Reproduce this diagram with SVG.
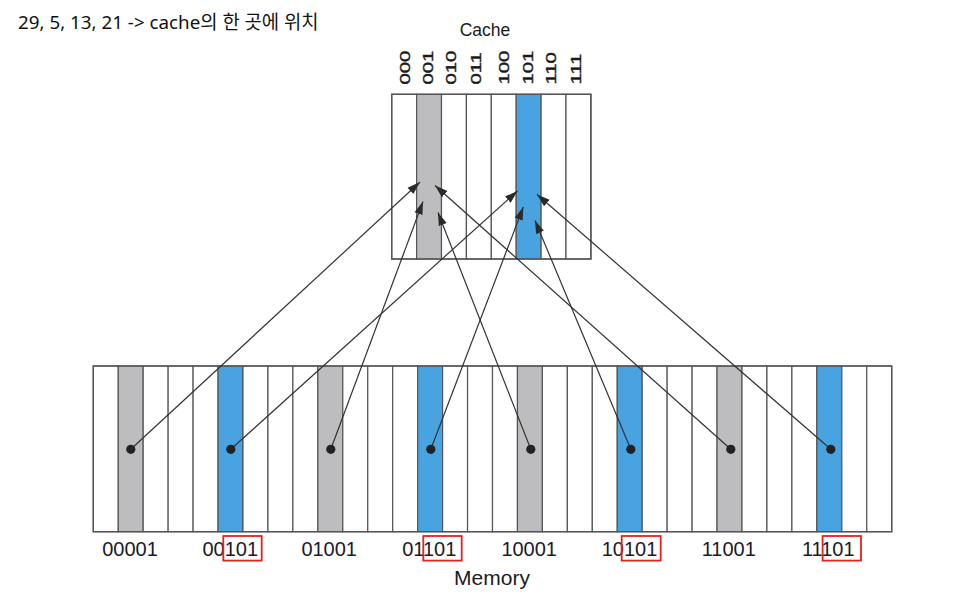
<svg xmlns="http://www.w3.org/2000/svg" width="972" height="594" viewBox="0 0 972 594">
<defs>
<style>
.cell{fill:#ffffff;stroke:#555555;stroke-width:1.2}
.gray{fill:#bdbdbf;stroke:#555555;stroke-width:1.2}
.blue{fill:#48a3e0;stroke:#555555;stroke-width:1.2}
.outer{fill:none;stroke:#555555;stroke-width:1.4}
.lbl{font-family:"Liberation Sans",Arial,sans-serif;font-size:20px;fill:#1a1a2a;text-anchor:middle}
.clbl{font-family:"Liberation Sans",Arial,sans-serif;font-size:14px;fill:#1a1a1a;stroke:#1a1a1a;stroke-width:0.35}
.red{fill:none;stroke:#e8201c;stroke-width:1.8}
.conn{stroke:#333333;stroke-width:1.2;fill:none}
.dot{fill:#222222}
</style>
<marker id="ah" markerUnits="userSpaceOnUse" markerWidth="14" markerHeight="10" viewBox="0 0 14 10" refX="13" refY="5" orient="auto">
<path d="M0,0.8 L13,5 L0,9.2 Z" fill="#2a2a2a"/>
</marker>
</defs>
<rect width="972" height="594" fill="#ffffff"/>

<text x="18" y="28.5" font-family="'Noto Sans','Noto Sans CJK KR',sans-serif" font-size="18.8" fill="#111111">29, 5, 13, 21 -&gt; cache의 한 곳에 위치</text>

<g id="cache">
<text x="485" y="35.5" font-family="'Liberation Sans',Arial,sans-serif" font-size="17.5" fill="#1a1a1a" text-anchor="middle">Cache</text>
<rect class="cell" x="391.7" y="94.3" width="24.9" height="164.7"/>
<rect class="gray" x="416.6" y="94.3" width="24.9" height="164.7"/>
<rect class="cell" x="441.5" y="94.3" width="24.9" height="164.7"/>
<rect class="cell" x="466.4" y="94.3" width="24.9" height="164.7"/>
<rect class="cell" x="491.3" y="94.3" width="24.9" height="164.7"/>
<rect class="blue" x="516.2" y="94.3" width="24.9" height="164.7"/>
<rect class="cell" x="541.1" y="94.3" width="24.9" height="164.7"/>
<rect class="cell" x="566.0" y="94.3" width="24.9" height="164.7"/>
<rect class="outer" x="391.7" y="94.3" width="199.2" height="164.7"/>
<text class="clbl" transform="translate(409.8,84.5) rotate(-90) scale(1.45,1)">000</text>
<text class="clbl" transform="translate(432.8,84.5) rotate(-90) scale(1.45,1)">001</text>
<text class="clbl" transform="translate(456.3,84.5) rotate(-90) scale(1.45,1)">010</text>
<text class="clbl" transform="translate(481.3,84.5) rotate(-90) scale(1.45,1)">011</text>
<text class="clbl" transform="translate(508.8,84.5) rotate(-90) scale(1.45,1)">100</text>
<text class="clbl" transform="translate(532.8,84.5) rotate(-90) scale(1.45,1)">101</text>
<text class="clbl" transform="translate(556.3,84.5) rotate(-90) scale(1.45,1)">110</text>
<text class="clbl" transform="translate(581.3,84.5) rotate(-90) scale(1.45,1)">111</text>
</g>

<g id="memory">
<rect class="cell" x="93.3" y="366" width="24.95" height="165.7"/>
<rect class="gray" x="118.25" y="366" width="24.95" height="165.7"/>
<rect class="cell" x="143.2" y="366" width="24.95" height="165.7"/>
<rect class="cell" x="168.15" y="366" width="24.95" height="165.7"/>
<rect class="cell" x="193.1" y="366" width="24.95" height="165.7"/>
<rect class="blue" x="218.05" y="366" width="24.95" height="165.7"/>
<rect class="cell" x="243.0" y="366" width="24.95" height="165.7"/>
<rect class="cell" x="267.95" y="366" width="24.95" height="165.7"/>
<rect class="cell" x="292.9" y="366" width="24.95" height="165.7"/>
<rect class="gray" x="317.85" y="366" width="24.95" height="165.7"/>
<rect class="cell" x="342.8" y="366" width="24.95" height="165.7"/>
<rect class="cell" x="367.75" y="366" width="24.95" height="165.7"/>
<rect class="cell" x="392.7" y="366" width="24.95" height="165.7"/>
<rect class="blue" x="417.65" y="366" width="24.95" height="165.7"/>
<rect class="cell" x="442.6" y="366" width="24.95" height="165.7"/>
<rect class="cell" x="467.55" y="366" width="24.95" height="165.7"/>
<rect class="cell" x="492.5" y="366" width="24.95" height="165.7"/>
<rect class="gray" x="517.45" y="366" width="24.95" height="165.7"/>
<rect class="cell" x="542.4" y="366" width="24.95" height="165.7"/>
<rect class="cell" x="567.35" y="366" width="24.95" height="165.7"/>
<rect class="cell" x="592.3" y="366" width="24.95" height="165.7"/>
<rect class="blue" x="617.25" y="366" width="24.95" height="165.7"/>
<rect class="cell" x="642.2" y="366" width="24.95" height="165.7"/>
<rect class="cell" x="667.15" y="366" width="24.95" height="165.7"/>
<rect class="cell" x="692.1" y="366" width="24.95" height="165.7"/>
<rect class="gray" x="717.05" y="366" width="24.95" height="165.7"/>
<rect class="cell" x="742.0" y="366" width="24.95" height="165.7"/>
<rect class="cell" x="766.95" y="366" width="24.95" height="165.7"/>
<rect class="cell" x="791.9" y="366" width="24.95" height="165.7"/>
<rect class="blue" x="816.85" y="366" width="24.95" height="165.7"/>
<rect class="cell" x="841.8" y="366" width="24.95" height="165.7"/>
<rect class="cell" x="866.75" y="366" width="24.95" height="165.7"/>
<rect class="outer" x="93.3" y="366" width="798.4" height="165.7"/>
<text x="492" y="585" font-family="'Liberation Sans',Arial,sans-serif" font-size="21" fill="#1a1a2a" text-anchor="middle">Memory</text>
</g>

<g id="addresses">
<text class="lbl" x="130" y="556">00001</text>
<text class="lbl" x="230.3" y="556">00101</text>
<text class="lbl" x="329.2" y="556">01001</text>
<text class="lbl" x="429.3" y="556">01101</text>
<text class="lbl" x="529.2" y="556">10001</text>
<text class="lbl" x="629.5" y="556">10101</text>
<text class="lbl" x="728.8" y="556">11001</text>
<text class="lbl" x="828.3" y="556">11101</text>
<rect class="red" x="223.3" y="536" width="38.4" height="24.6"/>
<rect class="red" x="423.3" y="536" width="38.4" height="24.6"/>
<rect class="red" x="621.7" y="536" width="39" height="24.6"/>
<rect class="red" x="822.6" y="536" width="38.4" height="24.6"/>
</g>

<g id="connectors">
<line class="conn" x1="130.8" y1="449.3" x2="420" y2="182" marker-end="url(#ah)"/>
<line class="conn" x1="230.8" y1="449.3" x2="517.5" y2="191" marker-end="url(#ah)"/>
<line class="conn" x1="330.8" y1="449.3" x2="423" y2="201.5" marker-end="url(#ah)"/>
<line class="conn" x1="430.8" y1="449.3" x2="523.3" y2="207" marker-end="url(#ah)"/>
<line class="conn" x1="530.8" y1="449.3" x2="438" y2="212.5" marker-end="url(#ah)"/>
<line class="conn" x1="630.8" y1="449.3" x2="535" y2="220.5" marker-end="url(#ah)"/>
<line class="conn" x1="730.8" y1="449.3" x2="435" y2="185.5" marker-end="url(#ah)"/>
<line class="conn" x1="830.8" y1="449.3" x2="537" y2="194.5" marker-end="url(#ah)"/>
<circle class="dot" cx="130.8" cy="449.3" r="4.6"/>
<circle class="dot" cx="230.8" cy="449.3" r="4.6"/>
<circle class="dot" cx="330.8" cy="449.3" r="4.6"/>
<circle class="dot" cx="430.8" cy="449.3" r="4.6"/>
<circle class="dot" cx="530.8" cy="449.3" r="4.6"/>
<circle class="dot" cx="630.8" cy="449.3" r="4.6"/>
<circle class="dot" cx="730.8" cy="449.3" r="4.6"/>
<circle class="dot" cx="830.8" cy="449.3" r="4.6"/>
</g>
</svg>
